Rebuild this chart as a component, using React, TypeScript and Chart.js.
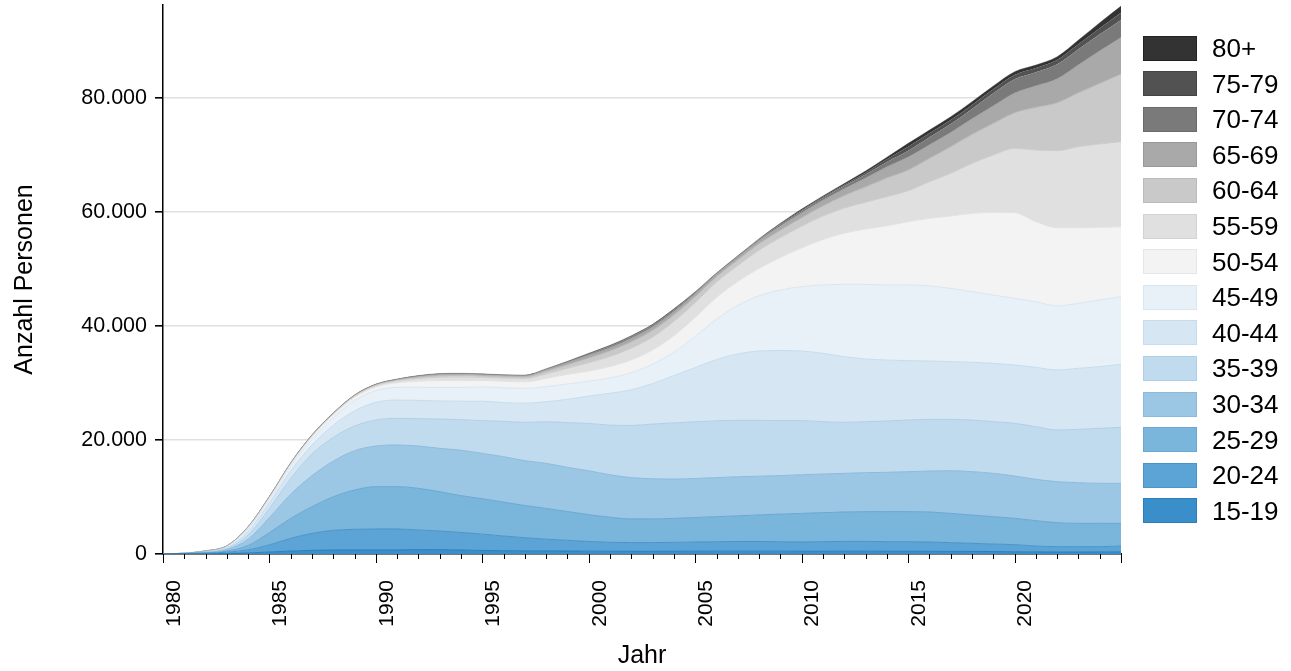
import React, { useEffect, useRef } from 'react';
import { Chart, registerables } from 'chart.js';

Chart.register(...registerables);

const YEARS = [
  1980, 1981, 1982, 1983, 1984, 1985, 1986, 1987, 1988, 1989,
  1990, 1991, 1992, 1993, 1994, 1995, 1996, 1997, 1998, 1999,
  2000, 2001, 2002, 2003, 2004, 2005, 2006, 2007, 2008, 2009,
  2010, 2011, 2012, 2013, 2014, 2015, 2016, 2017, 2018, 2019,
  2020, 2021, 2022, 2023, 2024, 2025,
];

const AGE_GROUPS = ['15-19', '20-24', '25-29', '30-34', '35-39', '40-44', '45-49', '50-54', '55-59', '60-64', '65-69', '70-74', '75-79', '80+'];

const S_15_19 = [0, 10, 40, 80, 180, 350, 520, 640, 700, 700, 700, 700, 760, 760, 700, 620, 580, 560, 540, 520, 500, 480, 470, 470, 480, 490, 500, 500, 500, 500, 480, 480, 490, 490, 480, 480, 470, 460, 450, 430, 400, 370, 350, 350, 360, 380];
const S_20_24 = [0, 30, 90, 240, 540, 1250, 2230, 2980, 3450, 3630, 3690, 3690, 3450, 3275, 3080, 2860, 2570, 2290, 2060, 1880, 1700, 1570, 1530, 1530, 1570, 1610, 1650, 1700, 1700, 1650, 1620, 1680, 1730, 1730, 1680, 1680, 1630, 1530, 1420, 1320, 1240, 1030, 940, 940, 930, 1020];
const S_25_29 = [0, 20, 70, 200, 780, 2150, 3500, 4680, 5900, 6900, 7420, 7420, 7310, 6895, 6450, 6220, 5950, 5650, 5400, 5050, 4700, 4400, 4150, 4150, 4200, 4300, 4400, 4500, 4650, 4850, 5030, 5090, 5150, 5210, 5270, 5270, 5270, 5140, 4970, 4800, 4620, 4450, 4210, 4090, 4090, 3980];
const S_30_34 = [0, 20, 70, 260, 1100, 2650, 4250, 5450, 6250, 6900, 7130, 7310, 7420, 7600, 7970, 7950, 7970, 7870, 7900, 7750, 7700, 7450, 7250, 7050, 6900, 6850, 6850, 6850, 6800, 6750, 6770, 6780, 6780, 6840, 6900, 7010, 7190, 7490, 7600, 7600, 7420, 7250, 7190, 7130, 7020, 7020];
const S_35_39 = [0, 20, 60, 180, 750, 1600, 2750, 3800, 4150, 4320, 4560, 4680, 4800, 5150, 5360, 5740, 6200, 6730, 7300, 7840, 8300, 8700, 9150, 9600, 9850, 9950, 9950, 9900, 9800, 9650, 9490, 9180, 8950, 8940, 9000, 9060, 9060, 9000, 9060, 9060, 9240, 9240, 9060, 9360, 9640, 9820];
const S_40_44 = [0, 10, 60, 170, 600, 1000, 1350, 1550, 2150, 2650, 3100, 3200, 3210, 3160, 3240, 3410, 3280, 3350, 3520, 4090, 4800, 5600, 6250, 7100, 8300, 9500, 10750, 11650, 12150, 12300, 12210, 11990, 11510, 10990, 10700, 10410, 10230, 10120, 10120, 10230, 10230, 10400, 10530, 10700, 10820, 11050];
const S_45_49 = [0, 10, 40, 120, 450, 600, 800, 1000, 1300, 1800, 2050, 2240, 2290, 2360, 2400, 2500, 2600, 2610, 2630, 2690, 2600, 2700, 3000, 3400, 4100, 5500, 7100, 8500, 9700, 10600, 11300, 11980, 12690, 13100, 13150, 13270, 13160, 12860, 12400, 11990, 11700, 11520, 11220, 11400, 11700, 11870];
const S_50_54 = [0, 20, 70, 120, 240, 300, 360, 470, 500, 580, 650, 820, 1080, 1220, 1250, 1150, 1150, 1150, 1450, 1700, 1800, 2000, 2250, 2500, 2900, 3300, 3800, 4200, 4800, 5700, 6800, 8000, 8980, 9700, 10400, 11110, 11870, 12690, 13740, 14500, 15020, 14030, 13740, 13270, 12740, 12280];
const S_55_59 = [0, 5, 25, 40, 90, 110, 130, 180, 190, 220, 260, 330, 480, 600, 620, 560, 560, 580, 800, 1050, 1450, 1750, 2050, 2250, 2500, 2600, 2700, 2800, 3200, 3500, 3800, 4100, 4400, 4700, 5100, 5440, 6430, 7480, 8770, 10060, 11290, 12580, 13510, 14210, 14620, 14910];
const S_60_64 = [0, 3, 12, 20, 40, 50, 60, 80, 90, 110, 130, 170, 260, 340, 340, 320, 320, 330, 480, 650, 850, 1000, 1150, 1200, 1150, 1050, 950, 1000, 1150, 1300, 1500, 1800, 2200, 2700, 3300, 3630, 4090, 4680, 5080, 5550, 6250, 7480, 8420, 9470, 10640, 11870];
const S_65_69 = [0, 1, 7, 10, 18, 22, 28, 40, 40, 50, 65, 80, 140, 170, 170, 160, 160, 170, 250, 330, 450, 520, 570, 580, 560, 480, 420, 440, 540, 700, 800, 950, 1150, 1500, 1900, 2220, 2340, 2460, 2690, 3040, 3400, 3740, 4150, 4850, 5670, 6370];
const S_70_74 = [0, 1, 4, 6, 8, 10, 12, 18, 18, 25, 28, 37, 65, 80, 80, 70, 70, 70, 110, 160, 210, 250, 280, 280, 270, 220, 140, 160, 200, 300, 380, 420, 500, 650, 900, 1170, 1350, 1520, 1760, 2230, 2450, 2400, 2570, 2750, 2920, 3100];
const S_75_79 = [0, 0, 1, 2, 3, 5, 6, 7, 7, 9, 10, 14, 22, 25, 25, 25, 25, 25, 40, 60, 90, 110, 130, 120, 130, 90, 60, 60, 70, 120, 180, 200, 260, 330, 450, 700, 700, 700, 700, 700, 760, 760, 760, 880, 1060, 1280];
const S_80P = [0, 0, 1, 2, 1, 3, 4, 5, 5, 6, 7, 9, 13, 15, 15, 15, 15, 15, 20, 30, 50, 70, 70, 70, 90, 60, 30, 40, 40, 80, 140, 150, 210, 320, 370, 580, 580, 580, 580, 580, 580, 520, 590, 760, 990, 1170];

const SERIES = [S_15_19, S_20_24, S_25_29, S_30_34, S_35_39, S_40_44, S_45_49, S_50_54, S_55_59, S_60_64, S_65_69, S_70_74, S_75_79, S_80P];

const FILLS = ['#3a8fcb', '#5ba4d5', '#7ab5db', '#9cc7e4', '#c1dbee', '#d6e7f3', '#e8f1f8', '#f3f3f3', '#e0e0e0', '#c9c9c9', '#a9a9a9', '#7a7a7a', '#525252', '#333333'];
const LINES = ['#2a7fbb', '#4b94c8', '#6aa7d2', '#8cbade', '#b0cfe8', '#c6dcee', '#d8e6f2', '#e2e2e2', '#cccccc', '#b4b4b4', '#a0a0a0', '#7a7a7a', '#525252', '#333333'];
const LINE_WIDTHS = [1, 1, 1, 1, 1, 1, 1, 1, 1, 1, 1, 0, 0, 0];
const LEGEND_BORDERS = ['#2a7fbb', '#4b94c8', '#6aa7d2', '#8cbade', '#b0cfe8', '#c6dcee', '#d8e6f2', '#e6e6e6', '#d2d2d2', '#bbbbbb', '#999999', '#6a6a6a', '#444444', '#222222'];

const X_LABEL_YEARS = [1980, 1985, 1990, 1995, 2000, 2005, 2010, 2015, 2020];
const Y_TICKS = [0, 20000, 40000, 60000, 80000];
const Y_MAX = 96300;

const FONT = "'Liberation Sans', Arial, sans-serif";

function fmtDE(v: number): string {
  return String(Math.round(v)).replace(/\B(?=(\d{3})+(?!\d))/g, '.');
}

export default function App() {
  const canvasRef = useRef<HTMLCanvasElement | null>(null);

  useEffect(() => {
    document.body.style.margin = '0';
    const canvas = canvasRef.current;
    if (!canvas) return;

    const datasets = SERIES.map((vals, i) => ({
      label: AGE_GROUPS[i],
      data: YEARS.map((yr, j) => ({ x: yr, y: vals[j] })),
      backgroundColor: FILLS[i],
      borderColor: LINES[i],
      borderWidth: LINE_WIDTHS[i],
      fill: i === 0 ? 'origin' : '-1',
      pointRadius: 0,
      pointHoverRadius: 0,
      cubicInterpolationMode: 'monotone' as const,
    }));

    const topOutline = {
      id: 'topOutline',
      afterDatasetsDraw(chart: any) {
        const { ctx, chartArea } = chart;
        const meta = chart.getDatasetMeta(SERIES.length - 1);
        const line = meta && meta.dataset;
        if (!line) return;
        ctx.save();
        ctx.beginPath();
        ctx.rect(chartArea.left, chartArea.top - 2, chartArea.right - chartArea.left, chartArea.bottom - chartArea.top + 2);
        ctx.clip();
        ctx.beginPath();
        line.path(ctx);
        ctx.strokeStyle = 'rgba(60,60,60,0.3)';
        ctx.lineWidth = 1;
        ctx.stroke();
        ctx.restore();
      },
    };

    const xTickMarks = {
      id: 'xTickMarks',
      afterDraw(chart: any) {
        const { ctx, chartArea, scales } = chart;
        const xs = scales.x;
        ctx.save();
        ctx.strokeStyle = '#000';
        ctx.lineWidth = 1;
        for (const yr of YEARS) {
          const px = Math.round(xs.getPixelForValue(yr)) + 0.5;
          const len = yr % 5 === 0 ? 9 : 5;
          ctx.beginPath();
          ctx.moveTo(px, chartArea.bottom);
          ctx.lineTo(px, chartArea.bottom + len);
          ctx.stroke();
        }
        ctx.restore();
      },
    };

    const chart = new Chart(canvas, {
      type: 'line',
      data: { datasets: datasets as any },
      options: {
        animation: false,
        responsive: false,
        maintainAspectRatio: false,
        layout: { padding: { top: 5, right: 170, left: 0, bottom: 0 } },
        plugins: {
          legend: { display: false },
          tooltip: { enabled: false },
        },
        scales: {
          x: {
            type: 'linear',
            min: 1980,
            max: 2025,
            afterFit(s: any) {
              s.height = 117;
              s.paddingLeft = 0;
              s.paddingRight = 0;
            },
            grid: { display: false, drawTicks: false },
            border: { display: true, color: '#000', width: 1.5 },
            ticks: {
              stepSize: 1,
              autoSkip: false,
              minRotation: 90,
              maxRotation: 90,
              padding: 26,
              labelOffset: 11,
              color: '#000',
              font: { family: FONT, size: 21 },
              callback: (v: any) => (X_LABEL_YEARS.includes(Number(v)) ? String(v) : ''),
            },
            title: {
              display: true,
              text: 'Jahr',
              color: '#000',
              font: { family: FONT, size: 25 },
              padding: { top: 0, bottom: 0 },
            },
          },
          y: {
            type: 'linear',
            stacked: true,
            min: 0,
            max: Y_MAX,
            afterFit(s: any) {
              s.width = 163;
              s.paddingTop = 0;
              s.paddingBottom = 0;
            },
            afterBuildTicks(s: any) { s.ticks = Y_TICKS.map((v) => ({ value: v })); },
            grid: { color: '#e0e0e0', lineWidth: 1.6, tickColor: '#000', tickLength: 8, drawTicks: true },
            border: { display: true, color: '#000', width: 1.5 },
            ticks: {
              padding: 8,
              color: '#000',
              font: { family: FONT, size: 21.5 },
              callback: (v: any) => fmtDE(Number(v)),
            },
            title: {
              display: true,
              text: 'Anzahl Personen',
              color: '#000',
              font: { family: FONT, size: 25 },
              padding: { top: 10, bottom: 0 },
            },
          },
        },
      },
      plugins: [topOutline, xTickMarks],
    });

    return () => chart.destroy();
  }, []);

  const legendOrder = AGE_GROUPS.map((g, i) => i).reverse();

  return (
    <div style={{ position: 'relative', width: 1291, height: 671, background: '#fff', fontFamily: FONT }}>
      <canvas ref={canvasRef} width={1291} height={671} style={{ position: 'absolute', left: 0, top: 0, display: 'block' }} />
      {legendOrder.map((idx, row) => {
        const cy = 48 + row * 35.6;
        return (
          <div key={AGE_GROUPS[idx]}>
            <div
              style={{
                position: 'absolute',
                left: 1143,
                top: cy - 12.5,
                width: 54,
                height: 25,
                boxSizing: 'border-box',
                background: FILLS[idx],
                border: `1.5px solid ${LEGEND_BORDERS[idx]}`,
              }}
            />
            <div
              style={{
                position: 'absolute',
                left: 1212,
                top: cy - 15,
                height: 30,
                lineHeight: '30px',
                fontSize: 26,
                color: '#000',
                whiteSpace: 'nowrap',
              }}
            >
              {AGE_GROUPS[idx]}
            </div>
          </div>
        );
      })}
    </div>
  );
}
